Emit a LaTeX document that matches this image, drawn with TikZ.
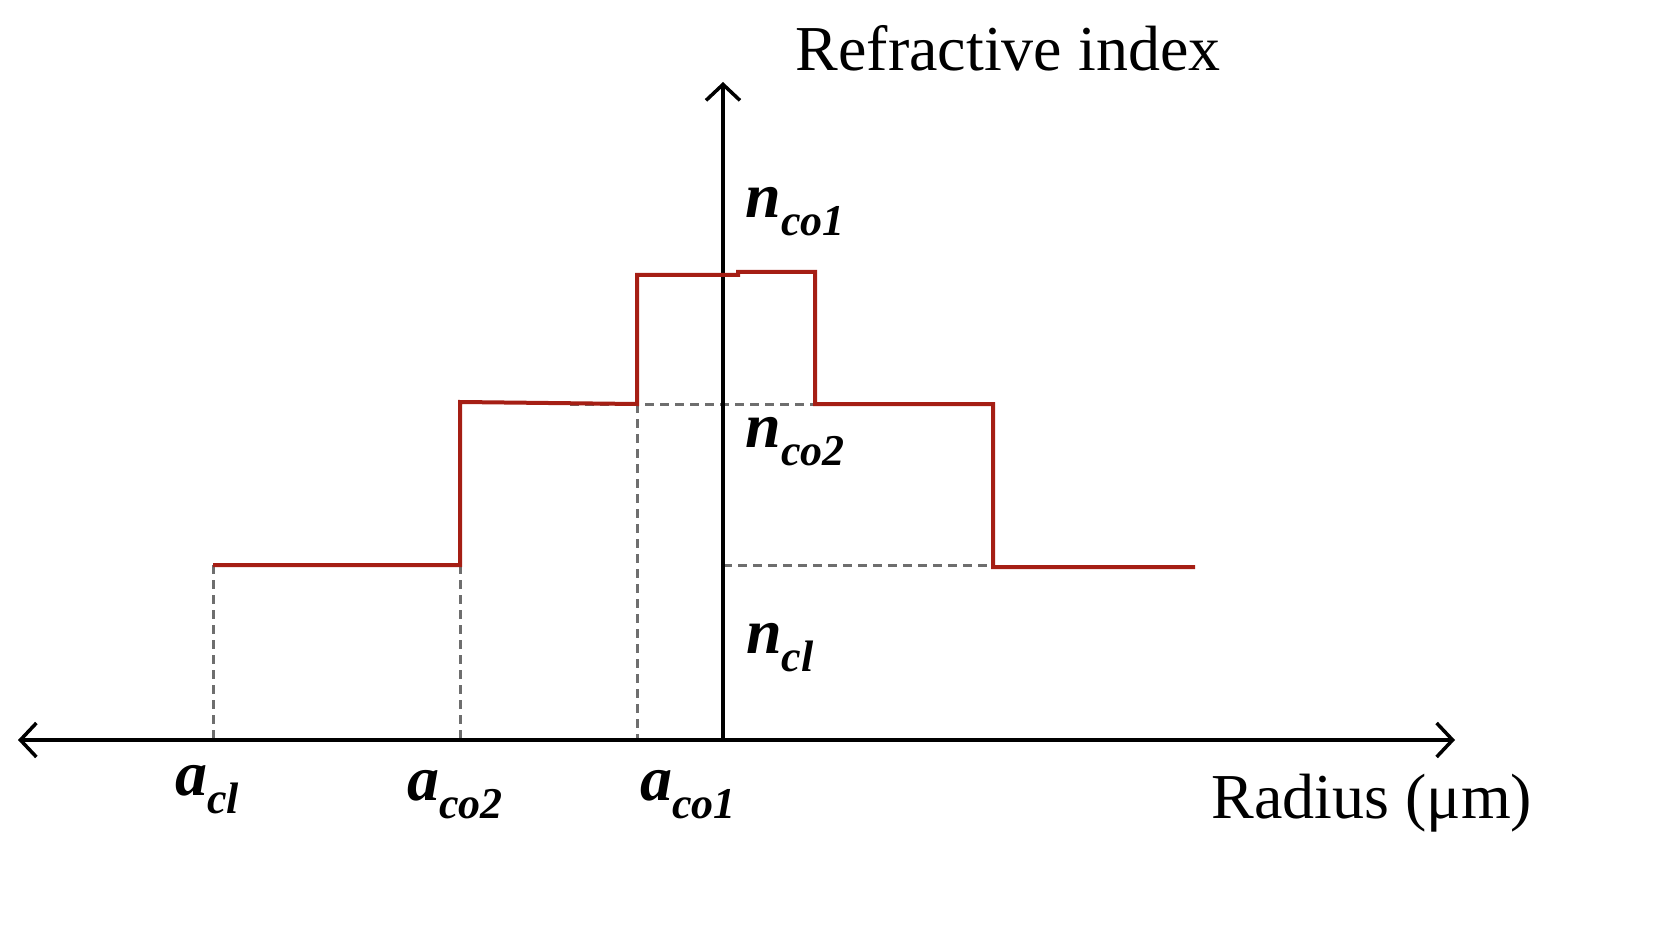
\documentclass[tikz,border=0pt]{standalone}
\usepackage{fontspec}
\setmainfont{Liberation Serif}
\usetikzlibrary{arrows.meta}
\definecolor{prof}{RGB}{165,30,20}
\definecolor{dgray}{RGB}{110,110,110}
\newcommand{\lab}[2]{{\fontsize{64}{68}\selectfont\bfseries\itshape #1\raisebox{-0.28em}{\fontsize{44}{46}\selectfont #2}}}
\begin{document}
\begin{tikzpicture}[x=1pt,y=-1pt,
  axis/.style={line width=3.5pt,-{Straight Barb[length=16pt,width=34pt,line width=3.5pt]}},
  profile/.style={prof,line width=4pt},
  guide/.style={dgray,line width=3pt,dash pattern=on 9pt off 6pt},
  big/.style={font=\fontsize{64}{70}\selectfont}]
\useasboundingbox (0,0) rectangle (1679,925);
\coordinate (xl) at (18,740); \coordinate (xr) at (1455,740);
\coordinate (o) at (723,740); \coordinate (yt) at (723,82);
\draw[guide] (213,565) -- (213,740);
\draw[guide] (460,565) -- (460,740);
\draw[guide] (637,404) -- (637,740);
\draw[guide] (570,404) -- (893,404);
\draw[guide] (723,565) -- (993,565);
\draw[axis] (o) -- (xl);
\draw[axis] (o) -- (xr);
\draw[axis] (o) -- (yt);
\draw[profile] (213,565) -- (460,565) -- (460,402) -- (637,404) -- (637,275) -- (738,275) -- (738,272) -- (815,272) -- (815,404) -- (993,404) -- (993,567) -- (1195,567);
\node[big] (ri) at (1008,48) {Refractive index};
\node[big] (rad) at (1372,803) {Radius (μm)};
\node (n1) at (795,212) {\lab{n}{co1}};
\node (n2) at (795,442) {\lab{n}{co2}};
\node (n3) at (780,648) {\lab{n}{cl}};
\node (a1) at (207,790) {\lab{a}{cl}};
\node (a2) at (455,795) {\lab{a}{co2}};
\node (a3) at (688,795) {\lab{a}{co1}};
\end{tikzpicture}
\end{document}
